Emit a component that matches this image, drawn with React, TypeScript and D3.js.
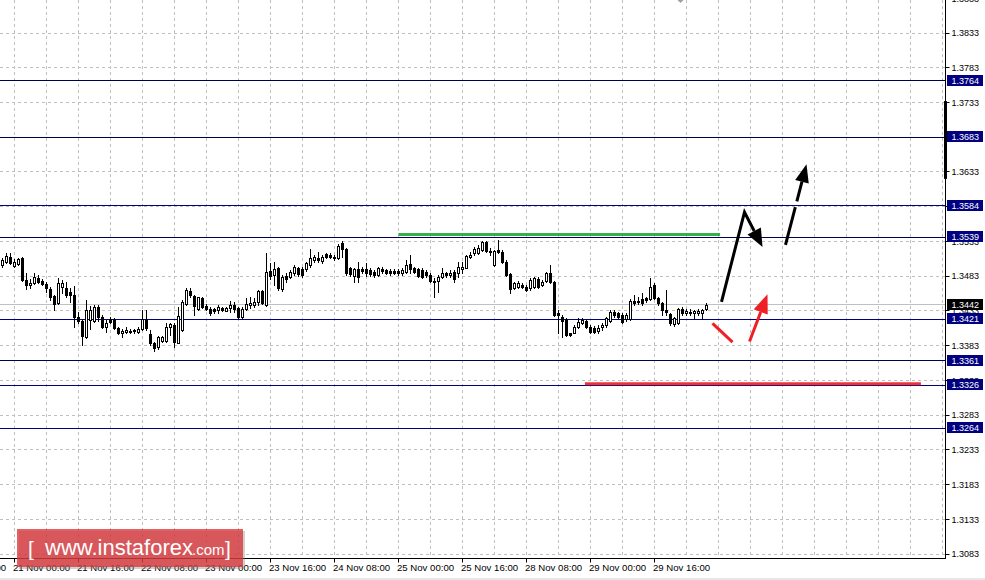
import React from 'react';
import * as d3 from 'd3';

const W = 985;
const H = 580;

// H1 candles, index 0..176
const open = [
  1.3499, 1.3503, 1.3511, 1.3497, 1.3500, 1.3509, 1.3477, 1.3470, 1.3473, 1.3480,
  1.3476, 1.3472, 1.3464, 1.3454, 1.3444, 1.3467, 1.3466, 1.3460, 1.3456, 1.3424,
  1.3418, 1.3395, 1.3420, 1.3418, 1.3438, 1.3424, 1.3410, 1.3421, 1.3421, 1.3408,
  1.3401, 1.3402, 1.3404, 1.3405, 1.3402, 1.3407, 1.3421, 1.3400, 1.3387, 1.3381,
  1.3389, 1.3389, 1.3410, 1.3413, 1.3387, 1.3405, 1.3443, 1.3462, 1.3454, 1.3436,
  1.3451, 1.3440, 1.3436, 1.3436, 1.3434, 1.3437, 1.3433, 1.3437, 1.3441, 1.3437,
  1.3424, 1.3436, 1.3441, 1.3441, 1.3446, 1.3462, 1.3441, 1.3490, 1.3485, 1.3495,
  1.3464, 1.3483, 1.3482, 1.3487, 1.3495, 1.3493, 1.3493, 1.3499, 1.3506, 1.3509,
  1.3505, 1.3515, 1.3513, 1.3511, 1.3509, 1.3531, 1.3522, 1.3495, 1.3483, 1.3493,
  1.3493, 1.3493, 1.3492, 1.3489, 1.3485, 1.3493, 1.3492, 1.3490, 1.3490, 1.3490,
  1.3487, 1.3489, 1.3500, 1.3495, 1.3493, 1.3492, 1.3489, 1.3485, 1.3476, 1.3476,
  1.3482, 1.3487, 1.3484, 1.3489, 1.3487, 1.3493, 1.3495, 1.3511, 1.3516, 1.3516,
  1.3521, 1.3532, 1.3519, 1.3499, 1.3521, 1.3518, 1.3503, 1.3486, 1.3466, 1.3467,
  1.3470, 1.3467, 1.3466, 1.3467, 1.3479, 1.3470, 1.3476, 1.3487, 1.3474, 1.3430,
  1.3424, 1.3421, 1.3401, 1.3401, 1.3410, 1.3415, 1.3418, 1.3410, 1.3408, 1.3404,
  1.3410, 1.3413, 1.3418, 1.3431, 1.3430, 1.3427, 1.3421, 1.3421, 1.3447, 1.3447,
  1.3450, 1.3451, 1.3450, 1.3470, 1.3451, 1.3444, 1.3434, 1.3428, 1.3414, 1.3415,
  1.3436, 1.3430, 1.3431, 1.3430, 1.3430, 1.3430, 1.3436,
];
const high = [
  1.3509, 1.3516, 1.3516, 1.3508, 1.3509, 1.3510, 1.3487, 1.3479, 1.3487, 1.3485,
  1.3479, 1.3474, 1.3467, 1.3456, 1.3480, 1.3477, 1.3474, 1.3466, 1.3469, 1.3431,
  1.3420, 1.3449, 1.3440, 1.3441, 1.3441, 1.3427, 1.3420, 1.3424, 1.3423, 1.3410,
  1.3407, 1.3410, 1.3407, 1.3407, 1.3410, 1.3434, 1.3434, 1.3405, 1.3388, 1.3397,
  1.3397, 1.3415, 1.3415, 1.3415, 1.3438, 1.3449, 1.3466, 1.3466, 1.3456, 1.3453,
  1.3453, 1.3443, 1.3438, 1.3437, 1.3441, 1.3438, 1.3438, 1.3447, 1.3446, 1.3438,
  1.3438, 1.3451, 1.3453, 1.3451, 1.3463, 1.3463, 1.3516, 1.3502, 1.3503, 1.3496,
  1.3485, 1.3487, 1.3492, 1.3499, 1.3496, 1.3496, 1.3503, 1.3522, 1.3513, 1.3518,
  1.3513, 1.3516, 1.3516, 1.3513, 1.3529, 1.3534, 1.3523, 1.3496, 1.3495, 1.3503,
  1.3496, 1.3502, 1.3495, 1.3492, 1.3496, 1.3496, 1.3493, 1.3493, 1.3493, 1.3493,
  1.3495, 1.3506, 1.3513, 1.3496, 1.3495, 1.3495, 1.3492, 1.3487, 1.3480, 1.3485,
  1.3495, 1.3489, 1.3492, 1.3492, 1.3503, 1.3503, 1.3513, 1.3518, 1.3525, 1.3528,
  1.3534, 1.3534, 1.3523, 1.3521, 1.3535, 1.3521, 1.3506, 1.3487, 1.3474, 1.3476,
  1.3473, 1.3470, 1.3480, 1.3482, 1.3482, 1.3477, 1.3489, 1.3499, 1.3476, 1.3434,
  1.3427, 1.3423, 1.3401, 1.3413, 1.3423, 1.3423, 1.3421, 1.3413, 1.3411, 1.3413,
  1.3415, 1.3424, 1.3434, 1.3434, 1.3431, 1.3430, 1.3430, 1.3450, 1.3456, 1.3453,
  1.3459, 1.3453, 1.3480, 1.3473, 1.3453, 1.3446, 1.3463, 1.3430, 1.3424, 1.3437,
  1.3438, 1.3436, 1.3436, 1.3434, 1.3436, 1.3436, 1.3444,
];
const low = [
  1.3496, 1.3502, 1.3500, 1.3496, 1.3499, 1.3476, 1.3464, 1.3466, 1.3472, 1.3473,
  1.3470, 1.3460, 1.3449, 1.3434, 1.3443, 1.3459, 1.3453, 1.3446, 1.3410, 1.3415,
  1.3384, 1.3394, 1.3407, 1.3417, 1.3418, 1.3409, 1.3402, 1.3415, 1.3407, 1.3400,
  1.3395, 1.3401, 1.3401, 1.3401, 1.3401, 1.3405, 1.3405, 1.3384, 1.3375, 1.3378,
  1.3388, 1.3388, 1.3398, 1.3381, 1.3387, 1.3404, 1.3441, 1.3453, 1.3427, 1.3434,
  1.3437, 1.3434, 1.3427, 1.3430, 1.3430, 1.3433, 1.3433, 1.3431, 1.3431, 1.3423,
  1.3423, 1.3434, 1.3437, 1.3438, 1.3441, 1.3443, 1.3440, 1.3479, 1.3470, 1.3463,
  1.3462, 1.3474, 1.3480, 1.3485, 1.3483, 1.3482, 1.3490, 1.3496, 1.3503, 1.3503,
  1.3502, 1.3509, 1.3509, 1.3506, 1.3508, 1.3511, 1.3485, 1.3483, 1.3474, 1.3474,
  1.3487, 1.3483, 1.3483, 1.3482, 1.3483, 1.3487, 1.3486, 1.3485, 1.3486, 1.3485,
  1.3485, 1.3487, 1.3487, 1.3487, 1.3482, 1.3480, 1.3482, 1.3474, 1.3453, 1.3460,
  1.3480, 1.3482, 1.3482, 1.3474, 1.3482, 1.3487, 1.3494, 1.3509, 1.3513, 1.3515,
  1.3519, 1.3518, 1.3513, 1.3497, 1.3516, 1.3502, 1.3483, 1.3459, 1.3464, 1.3466,
  1.3466, 1.3462, 1.3463, 1.3466, 1.3466, 1.3469, 1.3474, 1.3473, 1.3425, 1.3401,
  1.3395, 1.3397, 1.3397, 1.3401, 1.3408, 1.3414, 1.3408, 1.3401, 1.3401, 1.3401,
  1.3405, 1.3410, 1.3417, 1.3424, 1.3423, 1.3415, 1.3418, 1.3420, 1.3441, 1.3443,
  1.3441, 1.3446, 1.3449, 1.3450, 1.3441, 1.3427, 1.3427, 1.3413, 1.3411, 1.3414,
  1.3427, 1.3427, 1.3427, 1.3421, 1.3427, 1.3421, 1.3434,
];
const close = [
  1.3506, 1.3512, 1.3502, 1.3503, 1.3508, 1.3477, 1.3470, 1.3473, 1.3482, 1.3474,
  1.3472, 1.3466, 1.3453, 1.3443, 1.3473, 1.3473, 1.3456, 1.3456, 1.3424, 1.3418,
  1.3397, 1.3434, 1.3434, 1.3438, 1.3424, 1.3410, 1.3415, 1.3417, 1.3408, 1.3401,
  1.3404, 1.3405, 1.3402, 1.3404, 1.3407, 1.3421, 1.3408, 1.3387, 1.3379, 1.3395,
  1.3395, 1.3410, 1.3414, 1.3388, 1.3425, 1.3446, 1.3463, 1.3456, 1.3440, 1.3453,
  1.3438, 1.3436, 1.3430, 1.3433, 1.3438, 1.3434, 1.3437, 1.3441, 1.3436, 1.3424,
  1.3436, 1.3443, 1.3444, 1.3446, 1.3462, 1.3444, 1.3489, 1.3483, 1.3493, 1.3466,
  1.3482, 1.3479, 1.3489, 1.3496, 1.3486, 1.3485, 1.3502, 1.3509, 1.3511, 1.3506,
  1.3511, 1.3511, 1.3511, 1.3509, 1.3526, 1.3522, 1.3487, 1.3486, 1.3493, 1.3482,
  1.3490, 1.3487, 1.3486, 1.3485, 1.3495, 1.3490, 1.3487, 1.3487, 1.3487, 1.3487,
  1.3492, 1.3499, 1.3493, 1.3489, 1.3483, 1.3482, 1.3485, 1.3476, 1.3475, 1.3482,
  1.3487, 1.3484, 1.3487, 1.3479, 1.3496, 1.3496, 1.3512, 1.3513, 1.3522, 1.3523,
  1.3532, 1.3519, 1.3518, 1.3519, 1.3518, 1.3503, 1.3485, 1.3464, 1.3473, 1.3473,
  1.3467, 1.3463, 1.3477, 1.3480, 1.3467, 1.3474, 1.3487, 1.3474, 1.3427, 1.3427,
  1.3418, 1.3398, 1.3398, 1.3410, 1.3417, 1.3420, 1.3410, 1.3402, 1.3402, 1.3408,
  1.3413, 1.3423, 1.3431, 1.3427, 1.3424, 1.3417, 1.3427, 1.3447, 1.3444, 1.3446,
  1.3444, 1.3449, 1.3467, 1.3451, 1.3444, 1.3434, 1.3431, 1.3415, 1.3423, 1.3436,
  1.3430, 1.3433, 1.3430, 1.3433, 1.3433, 1.3434, 1.3442,
];

const timeLabels = [
  '20 Nov 08:00', '21 Nov 00:00', '21 Nov 16:00', '22 Nov 08:00', '23 Nov 00:00', '23 Nov 16:00',
  '24 Nov 08:00', '25 Nov 00:00', '25 Nov 16:00', '28 Nov 08:00', '29 Nov 00:00', '29 Nov 16:00',
];
const timeIndex = [-13, 3, 19, 35, 51, 67, 83, 99, 115, 131, 147, 163];

const priceTicks = d3.range(0, 17).map((i) => +(1.3083 + 0.005 * i).toFixed(4));
const levels = [1.3764, 1.3683, 1.3584, 1.3539, 1.3421, 1.3361, 1.3326, 1.3264];
const darkLevels = [1.3764, 1.3683, 1.3539, 1.3361];
const currentPrice = 1.3442;

const greenLevel = 1.3543;
const greenSpan = [99, 179.4];
const redLevel = 1.3328;
const redSpan = [145.6, 229.6];

// forecast annotations in (bar index, price)
const blackPath1 = [[179.75, 1.3446], [185.5, 1.3575], [190, 1.3525]];
const blackPath2 = [[195.75, 1.3528], [201, 1.3644]];
const redSegment = [[177.5, 1.3415], [182.5, 1.3388]];
const redArrow = [[186.75, 1.3389], [191.25, 1.3457]];
const shiftBar = [1.3735, 1.3623];

const xScale = d3.scaleLinear().domain([0, 176]).range([2.5, 706.5]);
const yScale = d3.scaleLinear().domain([1.3083, 1.3833]).range([554, 33]);

const AXIS_X = 945.5;
const AXIS_Y = 558.5;
const FONT = "'Liberation Sans', Arial, sans-serif";

function crisp(v: number) {
  return Math.round(v - 0.5) + 0.5;
}

function arrowHead(p0: number[], p1: number[], len: number, half: number) {
  const x0 = xScale(p0[0]), y0 = yScale(p0[1]);
  const x1 = xScale(p1[0]), y1 = yScale(p1[1]);
  const dx = x1 - x0, dy = y1 - y0;
  const d = Math.hypot(dx, dy);
  const ux = dx / d, uy = dy / d;
  const bx = x1 - ux * len, by = y1 - uy * len;
  const nx = -uy, ny = ux;
  return {
    base: [bx, by],
    poly: `${x1},${y1} ${bx + nx * half},${by + ny * half} ${bx - nx * half},${by - ny * half}`,
  };
}

export default function App() {
  const n = Math.min(open.length, high.length, low.length, close.length);
  const gridX = d3.range(0, 30).map((m) => 3 + 8 * m);
  const line = d3.line<number[]>().x((d) => xScale(d[0])).y((d) => yScale(d[1]));

  // black arrow 1
  const h1 = arrowHead(blackPath1[1], blackPath1[2], 18, 7.5);
  const b1pts = `M${xScale(blackPath1[0][0])},${yScale(blackPath1[0][1])} L${xScale(blackPath1[1][0])},${yScale(blackPath1[1][1])} L${h1.base[0]},${h1.base[1]}`;
  // black arrow 2
  const h2 = arrowHead(blackPath2[0], blackPath2[1], 18, 7);
  const b2start = [xScale(blackPath2[0][0]), yScale(blackPath2[0][1])];
  // red arrow
  const h3 = arrowHead(redArrow[0], redArrow[1], 19, 7.5);
  const r3start = [xScale(redArrow[0][0]), yScale(redArrow[0][1])];

  return (
    <svg
      width={W}
      height={H}
      viewBox={`0 0 ${W} ${H}`}
      style={{ position: 'absolute', left: 0, top: 0, background: '#fff' }}
      fontFamily={FONT}
    >
      <rect x={0} y={0} width={W} height={H} fill="#ffffff" />

      {/* grid */}
      <g stroke="#c0c0c0" strokeWidth={1} strokeDasharray="3,3">
        {gridX.map((k) => (
          <line key={'gx' + k} x1={xScale(k) + 12} x2={xScale(k) + 12} y1={0} y2={AXIS_Y - 0.5}
            transform="translate(-12,0)" />
        ))}
        {priceTicks.map((p) => (
          <line key={'gy' + p} x1={0} x2={AXIS_X - 0.5} y1={crisp(yScale(p))} y2={crisp(yScale(p))} />
        ))}
      </g>

      {/* current price line */}
      <line x1={0} x2={AXIS_X} y1={crisp(yScale(currentPrice))} y2={crisp(yScale(currentPrice))}
        stroke="#c0c0c0" strokeWidth={1} />

      {/* levels */}
      {levels.map((p) => (
        <line key={'lv' + p} x1={0} x2={AXIS_X} y1={crisp(yScale(p))} y2={crisp(yScale(p))}
          stroke={darkLevels.includes(p) ? '#000050' : '#000080'} strokeWidth={1} />
      ))}

      {/* green / red horizontal */}
      <line x1={xScale(greenSpan[0])} x2={xScale(greenSpan[1])} y1={yScale(greenLevel)} y2={yScale(greenLevel)}
        stroke="#34b04a" strokeWidth={3} />
      <line x1={xScale(redSpan[0])} x2={xScale(redSpan[1])} y1={yScale(redLevel)} y2={yScale(redLevel)}
        stroke="#ee3338" strokeWidth={3} />

      {/* candles */}
      <g>
        {d3.range(n).map((i) => {
          const cx = xScale(i);
          const o = open[i], c = close[i];
          const bull = c >= o;
          const yTop = Math.round(yScale(Math.max(o, c))) + 0.5;
          let yBot = Math.round(yScale(Math.min(o, c))) + 0.5;
          if (yBot - yTop < 1) yBot = yTop + 1;
          return (
            <g key={'c' + i}>
              <line x1={cx} x2={cx} y1={Math.round(yScale(high[i]))} y2={Math.round(yScale(low[i])) + 1}
                stroke="#000" strokeWidth={1} />
              <rect x={cx - 1} y={yTop} width={2} height={yBot - yTop}
                fill={bull ? '#fff' : '#000'} stroke="#000" strokeWidth={1} />
            </g>
          );
        })}
      </g>

      {/* forecast arrows */}
      <path d={b1pts} fill="none" stroke="#000" strokeWidth={3} strokeLinejoin="miter" />
      <polygon points={h1.poly} fill="#000" />
      <path d={`M${b2start[0]},${b2start[1]} L${h2.base[0]},${h2.base[1]}`} fill="none" stroke="#000"
        strokeWidth={3} strokeDasharray="39,6" />
      <polygon points={h2.poly} fill="#000" />
      <path d={line(redSegment) || ''} fill="none" stroke="#ee1f26" strokeWidth={3} />
      <path d={`M${r3start[0]},${r3start[1]} L${h3.base[0]},${h3.base[1]}`} fill="none" stroke="#ee1f26"
        strokeWidth={3} />
      <polygon points={h3.poly} fill="#ee1f26" />

      {/* top marker */}
      <polygon points={`${xScale(169.5) - 3},0 ${xScale(169.5) + 3},0 ${xScale(169.5)},3`} fill="#a0a0a0" />

      {/* axes */}
      <line x1={AXIS_X} x2={AXIS_X} y1={0} y2={AXIS_Y} stroke="#000" strokeWidth={1} />
      <line x1={0} x2={AXIS_X + 0.5} y1={AXIS_Y} y2={AXIS_Y} stroke="#000" strokeWidth={1} />
      <rect x={AXIS_X - 1.5} y={yScale(shiftBar[0])} width={3} height={yScale(shiftBar[1]) - yScale(shiftBar[0])} fill="#000" />

      {/* price ticks */}
      <g fontSize={9} fill="#000">
        {priceTicks.map((p) => (
          <g key={'pt' + p}>
            <line x1={AXIS_X} x2={AXIS_X + 4} y1={crisp(yScale(p))} y2={crisp(yScale(p))} stroke="#000" />
            <text x={951.5} y={yScale(p)} dy="0.36em">{p.toFixed(4)}</text>
          </g>
        ))}
      </g>

      {/* level labels */}
      <g fontSize={9}>
        {levels.map((p) => (
          <g key={'ll' + p}>
            <rect x={947} y={Math.round(yScale(p)) - 6} width={36} height={11} fill="#000080" />
            <text x={951.5} y={Math.round(yScale(p))} dy="0.36em" fill="#fff">{p.toFixed(4)}</text>
          </g>
        ))}
        <rect x={947} y={Math.round(yScale(currentPrice)) - 6} width={36} height={11} fill="#000" />
        <text x={951.5} y={Math.round(yScale(currentPrice))} dy="0.36em" fill="#fff">{currentPrice.toFixed(4)}</text>
      </g>

      {/* time axis */}
      <g fontSize={9.6} fill="#000">
        {timeIndex.map((k, i) => (
          <g key={'tt' + k}>
            <line x1={xScale(k)} x2={xScale(k)} y1={AXIS_Y} y2={AXIS_Y + 4} stroke="#000" />
            <text x={xScale(k) - 1.5} y={571}>{timeLabels[i]}</text>
          </g>
        ))}
      </g>
      <rect x={0} y={578} width={W} height={2} fill="#e6e6e6" />

      {/* logo */}
      <g>
        <rect x={19} y={531} width={226} height={38} fill="#7a7a7a" opacity={0.35} />
        <rect x={17} y={529} width={226} height={38} fill="#d8343a" opacity={0.78} />
        <text x={28} y={556} fontSize={21} fill="#fff" fontWeight={300}>[</text>
        <text x={45} y={555} fontSize={22} fill="#fff">www.instaforex</text>
        <text x={192} y={555} fontSize={15} fill="#fff">.com</text>
        <text x={225} y={556} fontSize={21} fill="#fff" fontWeight={300}>]</text>
      </g>
    </svg>
  );
}
